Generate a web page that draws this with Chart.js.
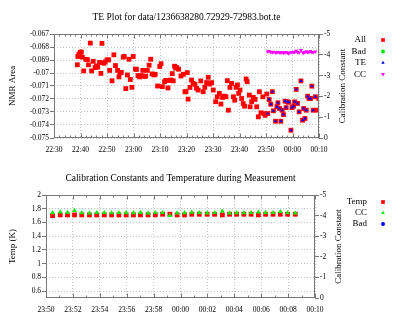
<!DOCTYPE html>
<html>
<head>
<meta charset="utf-8">
<script src="https://cdn.jsdelivr.net/npm/chart.js@4.4.0/dist/chart.umd.min.js"></script>
<style>
  html, body { margin: 0; padding: 0; background: #fff; }
  #wrap { position: relative; width: 402px; height: 321px; }
  canvas { position: absolute; left: 0; }
</style>
</head>
<body>
<div id="wrap">
  <canvas id="teChart" width="402" height="160" style="top:0"></canvas>
  <canvas id="calChart" width="402" height="161" style="top:160px"></canvas>
</div>
<script>
// all times are minutes after 22:30
const preTimes = [8.8, 9.0, 9.4, 9.9, 10.3, 10.7, 11.2, 12.0, 12.6, 13.0, 13.7, 14.2, 14.8, 15.5, 16.0, 16.5, 17.2, 17.7, 18.1, 18.8,
  19.3, 20.0, 20.6, 21.0, 21.9, 22.6, 23.2, 24.0, 24.5, 24.9, 25.4, 26.1, 26.5, 27.1, 27.7, 28.3, 28.8, 29.4, 29.9, 30.7,
  31.1, 31.7, 32.3, 32.9, 33.5, 34.1, 34.6, 35.2, 35.9, 36.5, 37.0, 37.7, 38.2, 39.1, 39.9, 40.4, 40.9, 41.7, 42.2, 43.0,
  43.5, 44.1, 44.6, 45.0, 45.5, 45.9, 46.3, 47.0, 47.9, 48.8, 49.4, 49.8, 50.3, 50.6, 51.3, 51.9, 52.5, 53.2, 53.8, 54.4,
  55.4, 56.3, 56.9, 57.6, 58.2, 58.8, 59.5, 60.1, 61.0, 61.6, 62.4, 63.0, 63.6, 64.3, 64.9, 65.4, 65.8, 66.4, 67.0, 67.7,
  68.2, 68.7, 69.2, 69.7, 70.2, 70.8, 71.4, 71.9, 72.5, 72.9, 73.7, 74.0, 74.6, 75.2, 75.9, 76.5, 77.1, 77.5, 78.1, 78.8,
  79.3, 79.7, 80.3];
const preArea = [-0.06937, -0.06873, -0.06855, -0.06842, -0.06838, -0.06878, -0.06984, -0.06895, -0.06897, -0.06937,
  -0.06770, -0.06984, -0.06910, -0.06958, -0.06945, -0.06955, -0.06919, -0.07003, -0.06772, -0.06925,
  -0.06915, -0.06899, -0.06899, -0.06980, -0.07060, -0.06860, -0.06943, -0.06980, -0.07030, -0.07000,
  -0.06995, -0.06878, -0.06873, -0.07120, -0.07015, -0.06894, -0.07050, -0.07110, -0.06873, -0.06970,
  -0.06972, -0.07020, -0.07030, -0.07020, -0.06980, -0.07025, -0.07025, -0.06980, -0.06940, -0.06894,
  -0.07007, -0.07015, -0.07010, -0.07100, -0.06950, -0.06929, -0.07105, -0.07067, -0.07057, -0.07115,
  -0.07057, -0.07054, -0.07005, -0.07060, -0.06948, -0.06963, -0.06958, -0.06971, -0.07023, -0.07010,
  -0.07144, -0.07144, -0.06997, -0.07201, -0.07111, -0.07054, -0.07080, -0.07087, -0.07118, -0.07131,
  -0.07061, -0.07144, -0.07110, -0.07074, -0.07033, -0.07085, -0.07074, -0.07131, -0.07221, -0.07183,
  -0.07157, -0.07239, -0.07188, -0.07178, -0.07183, -0.07059, -0.07286, -0.07111, -0.07080, -0.07183,
  -0.07209, -0.07110, -0.07092, -0.07157, -0.07131, -0.07196, -0.07235, -0.07255, -0.07046, -0.07067,
  -0.07170, -0.07260, -0.07221, -0.07188, -0.07203, -0.07260, -0.07337, -0.07144, -0.07306, -0.07183,
  -0.07312, -0.07325, -0.07162];

const teTimes = [80.7, 81.2, 81.8, 82.4, 82.8, 83.6, 84.1, 84.5, 85.1, 85.6, 86.1, 86.6, 87.2, 87.6, 88.1, 88.6, 89.4,
  89.8, 90.4, 90.8, 91.4, 91.9, 92.5, 93.2, 93.8, 94.2, 94.7, 95.2, 95.7, 96.2, 96.8, 97.3, 97.8, 98.6];
const teArea = [-0.07312, -0.07204, -0.07240, -0.07144, -0.07291, -0.07371, -0.07260, -0.07229, -0.07273, -0.07371,
  -0.07286, -0.07320, -0.07217, -0.07266, -0.07222, -0.07225, -0.07440, -0.07266, -0.07255, -0.07222,
  -0.07126, -0.07234, -0.07299, -0.07061, -0.07363, -0.07273, -0.07350, -0.07286, -0.07178, -0.07196,
  -0.07196, -0.07101, -0.07286, -0.07183];
const ccTop = [-4.15, -4.18, -4.12, -4.13, -4.14, -4.10, -4.12, -4.13, -4.11, -4.10, -4.12, -4.09, -4.11, -4.13, -4.10,
  -4.06, -4.12, -4.11, -4.14, -4.12, -4.19, -4.13, -4.10, -4.22, -4.12, -4.09, -4.12, -4.16, -4.13, -4.12, -4.17,
  -4.13, -4.11, -4.15];
const postTimes = [99.2, 99.9];
const postArea = [-0.07286, -0.07196];

const calTimes = [80.49, 81.06, 81.60, 82.12, 82.66, 83.23, 83.77, 84.33, 84.88, 85.42, 85.96, 86.50, 87.02, 87.59,
  88.13, 88.67, 89.21, 89.75, 90.30, 90.84, 91.40, 91.98, 92.54, 93.11, 93.65, 94.17, 94.71, 95.25, 95.79, 96.33,
  96.88, 97.42, 97.96, 98.53];
const tempK = [1.70, 1.71, 1.71, 1.71, 1.71, 1.71, 1.71, 1.71, 1.71, 1.71, 1.71, 1.71, 1.71, 1.71, 1.71, 1.72, 1.72,
  1.71, 1.71, 1.72, 1.72, 1.72, 1.72, 1.71, 1.72, 1.72, 1.72, 1.72, 1.71, 1.72, 1.72, 1.72, 1.72, 1.72];
const ccBottom = [-4.13, -4.17, -4.15, -4.24, -4.13, -4.12, -4.14, -4.14, -4.13, -4.14, -4.13, -4.13, -4.15, -4.12,
  -4.14, -4.14, -4.00, -4.12, -4.13, -4.16, -4.14, -4.12, -4.14, -4.21, -4.12, -4.13, -4.13, -4.14, -4.17, -4.15,
  -4.14, -4.19, -4.13, -4.12];

const nmrTicks = [-0.075, -0.074, -0.073, -0.072, -0.071, -0.07, -0.069, -0.068, -0.067];
const tempTicks = [0.6, 0.8, 1, 1.2, 1.4, 1.6, 1.8, 2];
const ccTicks = [-5, -4, -3, -2, -1, 0];
const topTimeTicks = [0, 10, 20, 30, 40, 50, 60, 70, 80, 90, 100];
const calTimeTicks = [80, 82, 84, 86, 88, 90, 92, 94, 96, 98, 100];

const FONT = '"Liberation Serif", "Times New Roman", serif';
Chart.defaults.font.family = FONT;
Chart.defaults.color = '#000';

const pts = (xs, ys) => xs.map((x, i) => ({ x: x, y: ys[i] }));
const clock = v => {
  const m = Math.round(22 * 60 + 30 + v) % (24 * 60);
  return String(Math.floor(m / 60)).padStart(2, '0') + ':' + String(m % 60).padStart(2, '0');
};
const fixTicks = list => axis => { axis.ticks = list.map(v => ({ value: v })); };

// gnuplot style box, with small inward tick marks on the time axis
const gnuFrame = {
  id: 'gnuFrame',
  afterDraw(chart, args, o) {
    const { ctx, chartArea: a, scales } = chart;
    const L = Math.round(a.left) + 0.5, R = Math.round(a.right) - 0.5;
    const T = Math.round(a.top) + 0.5, B = Math.round(a.bottom) - 0.5;
    const line = (x1, y1, x2, y2) => { ctx.beginPath(); ctx.moveTo(x1, y1); ctx.lineTo(x2, y2); ctx.stroke(); };
    ctx.save();
    ctx.strokeStyle = '#777';
    ctx.lineWidth = 1;
    ctx.strokeRect(L, T, R - L, B - T);
    const sx = scales.x;
    for (let v = sx.min; v <= sx.max + 1e-9; v += o.xMinor) {
      const x = Math.round(sx.getPixelForValue(v)) + 0.5;
      line(x, B, x, B - 2);
      line(x, T, x, T + 2);
    }
    sx.ticks.forEach(t => {
      const x = Math.round(sx.getPixelForValue(t.value)) + 0.5;
      line(x, B, x, B - 4);
      line(x, T, x, T + 4);
    });
    ctx.restore();
  }
};

// title, axis titles and the key on the right
const textLayer = {
  id: 'textLayer',
  afterDraw(chart, args, o) {
    const ctx = chart.ctx;
    const a = chart.chartArea;
    ctx.save();
    ctx.fillStyle = '#000';
    ctx.textBaseline = 'middle';
    ctx.textAlign = 'center';
    ctx.font = o.titleSize + 'px ' + FONT;
    ctx.fillText(o.title, (a.left + a.right) / 2, o.titleY);
    ctx.font = o.labelSize + 'px ' + FONT;
    const mid = (a.top + a.bottom) / 2;
    [[o.leftLabel, o.leftX], [o.rightLabel, o.rightX]].forEach(([txt, x]) => {
      ctx.save();
      ctx.translate(x, mid);
      ctx.rotate(-Math.PI / 2);
      ctx.fillText(txt, 0, 0);
      ctx.restore();
    });
    ctx.textAlign = 'right';
    chart.data.datasets.forEach((ds, i) => {
      const y = o.keyTop + i * o.keyStep;
      ctx.fillStyle = '#000';
      ctx.fillText(ds.label, o.keyTextX, y);
      ctx.fillStyle = ds.backgroundColor;
      Chart.helpers.drawPoint(ctx, {
        pointStyle: ds.pointStyle, rotation: ds.rotation || 0,
        radius: ds.keyRadius, borderWidth: 0
      }, o.keyMarkX, y);
    });
    ctx.restore();
  }
};

const tickFont = { family: FONT, size: 7.5 };
const gridStyle = { color: '#c4c4c4', lineWidth: 1, drawTicks: false };
const valueGrid = { color: '#c4c4c4', lineWidth: 1, drawTicks: true, tickLength: 4, tickColor: '#777', tickBorderDash: [] };
const sideGrid = { drawOnChartArea: false, drawTicks: true, tickLength: 4, tickColor: '#777' };
const borderStyle = { display: false, dash: [1, 2] };

const teChart = new Chart(document.getElementById('teChart'), {
  type: 'scatter',
  data: {
    datasets: [
      { label: 'All', data: pts(preTimes.concat(teTimes, postTimes), preArea.concat(teArea, postArea)),
        pointStyle: 'rect', pointRadius: 3.4, keyRadius: 2.6, borderWidth: 0, backgroundColor: '#ff0000', order: 4 },
      { label: 'Bad', data: [], pointStyle: 'circle', pointRadius: 2, keyRadius: 2, borderWidth: 0,
        backgroundColor: '#00ee00', order: 3 },
      { label: 'TE', data: pts(teTimes, teArea), pointStyle: 'triangle', pointRadius: 2, keyRadius: 2,
        borderWidth: 0, backgroundColor: '#0000ff', order: 2 },
      { label: 'CC', data: pts(teTimes, ccTop), yAxisID: 'y2', pointStyle: 'triangle', rotation: 180,
        pointRadius: 2.3, keyRadius: 2.3, borderWidth: 0, backgroundColor: '#ff00ff', order: 1 }
    ]
  },
  options: {
    responsive: false,
    animation: false,
    devicePixelRatio: 1,
    events: [],
    layout: { padding: { left: 0, right: 0, top: 34, bottom: 0 } },
    plugins: {
      legend: { display: false },
      tooltip: { enabled: false },
      gnuFrame: { xMinor: 2 },
      textLayer: {
        title: 'TE Plot for data/1236638280.72929-72983.bot.te', titleY: 17, titleSize: 9.5,
        leftLabel: 'NMR Area', leftX: 13, rightLabel: 'Calibration Constant', rightX: 343, labelSize: 9,
        keyTop: 40, keyStep: 11.4, keyTextX: 366, keyMarkX: 383
      }
    },
    scales: {
      x: {
        type: 'linear', min: 0, max: 100,
        afterBuildTicks: fixTicks(topTimeTicks),
        afterFit: s => { s.height = 22; },
        ticks: { callback: clock, font: tickFont, padding: 8, maxRotation: 0, autoSkip: false },
        grid: gridStyle, border: borderStyle
      },
      y: {
        min: -0.075, max: -0.067,
        afterBuildTicks: fixTicks(nmrTicks),
        afterFit: s => { s.width = 54; },
        ticks: { callback: v => String(Number(v.toFixed(3))), font: tickFont, padding: 1 },
        grid: valueGrid, border: borderStyle
      },
      y2: {
        position: 'right', min: -5, max: 0, reverse: true,
        afterBuildTicks: fixTicks(ccTicks),
        afterFit: s => { s.width = 83; },
        ticks: { callback: v => String(v), font: tickFont, padding: 1 },
        grid: sideGrid, border: { display: false }
      }
    }
  },
  plugins: [gnuFrame, textLayer]
});

const calChart = new Chart(document.getElementById('calChart'), {
  type: 'scatter',
  data: {
    datasets: [
      { label: 'Temp', data: pts(calTimes, tempK), pointStyle: 'rect', pointRadius: 3.4, keyRadius: 2.6,
        borderWidth: 0, backgroundColor: '#ff0000', order: 3 },
      { label: 'CC', data: pts(calTimes, ccBottom), yAxisID: 'y2', pointStyle: 'triangle', pointRadius: 2.8,
        keyRadius: 2.2, borderWidth: 0, backgroundColor: '#00ee00', order: 2 },
      { label: 'Bad', data: [], pointStyle: 'circle', pointRadius: 2, keyRadius: 2, borderWidth: 0,
        backgroundColor: '#0000ff', order: 1 }
    ]
  },
  options: {
    responsive: false,
    animation: false,
    devicePixelRatio: 1,
    events: [],
    layout: { padding: { left: 0, right: 0, top: 35, bottom: 0 } },
    plugins: {
      legend: { display: false },
      tooltip: { enabled: false },
      gnuFrame: { xMinor: 1 },
      textLayer: {
        title: 'Calibration Constants and Temperature during Measurement', titleY: 18, titleSize: 9.5,
        leftLabel: 'Temp (K)', leftX: 13, rightLabel: 'Calibration Constant', rightX: 339, labelSize: 9,
        keyTop: 42, keyStep: 11, keyTextX: 367, keyMarkX: 383
      }
    },
    scales: {
      x: {
        type: 'linear', min: 80, max: 100,
        afterBuildTicks: fixTicks(calTimeTicks),
        afterFit: s => { s.height = 23; },
        ticks: { callback: clock, font: tickFont, padding: 8, maxRotation: 0, autoSkip: false },
        grid: gridStyle, border: borderStyle
      },
      y: {
        min: 0.5, max: 2,
        afterBuildTicks: fixTicks(tempTicks),
        afterFit: s => { s.width = 46; },
        ticks: { callback: v => String(Number(v.toFixed(1))), font: tickFont, padding: 1 },
        grid: valueGrid, border: borderStyle
      },
      y2: {
        position: 'right', min: -5, max: 0, reverse: true,
        afterBuildTicks: fixTicks(ccTicks),
        afterFit: s => { s.width = 87; },
        ticks: { callback: v => String(v), font: tickFont, padding: 1 },
        grid: sideGrid, border: { display: false }
      }
    }
  },
  plugins: [gnuFrame, textLayer]
});
</script>
</body>
</html>
